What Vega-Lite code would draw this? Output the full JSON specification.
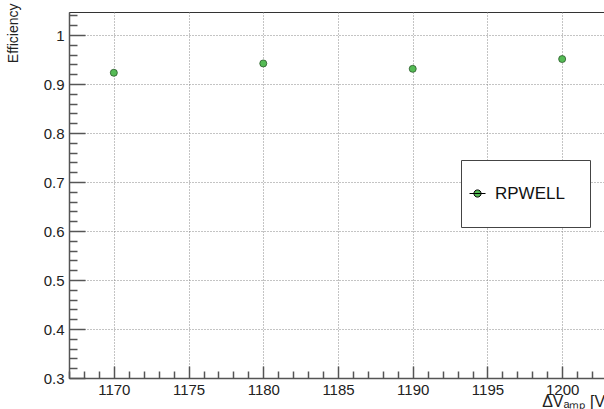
{
  "$schema": "https://vega.github.io/schema/vega-lite/v6.json",
  "width": 538,
  "height": 366,
  "autosize": {"type": "none"},
  "padding": {"left": 69, "top": 12, "right": 0, "bottom": 31},
  "background": "white",
  "config": {
    "font": "Liberation Sans",
    "view": {"stroke": "#333", "strokeWidth": 1},
    "axis": {
      "domainColor": "#555",
      "domainWidth": 1.5,
      "tickColor": "#555",
      "tickWidth": 1.5,
      "labelColor": "#222",
      "labelFontSize": 15,
      "titleFontWeight": "normal",
      "titleColor": "#222",
      "gridColor": "#888",
      "gridDash": [1, 2],
      "gridWidth": 1
    },
    "legend": {
      "orient": "none",
      "legendX": 392,
      "legendY": 148,
      "padding": 25,
      "strokeColor": "#444",
      "fillColor": "white",
      "labelFontSize": 17,
      "labelColor": "#111",
      "symbolType": "M-1,0H1M-0.45,0A0.45,0.45 0 1,0 0.45,0A0.45,0.45 0 1,0 -0.45,0Z",
      "symbolSize": 256,
      "symbolStrokeColor": "#000",
      "symbolStrokeWidth": 1,
      "symbolOffset": -17,
      "labelOffset": 9
    }
  },
  "data": {
    "values": [
      {"hv": 1170, "eff": 0.923, "lo": 0.919, "hi": 0.927, "series": "RPWELL"},
      {"hv": 1180, "eff": 0.942, "lo": 0.938, "hi": 0.946, "series": "RPWELL"},
      {"hv": 1190, "eff": 0.931, "lo": 0.927, "hi": 0.935, "series": "RPWELL"},
      {"hv": 1200, "eff": 0.951, "lo": 0.947, "hi": 0.955, "series": "RPWELL"}
    ]
  },
  "layer": [
    {
      "mark": {"type": "rule", "color": "#000", "strokeWidth": 1},
      "encoding": {
        "x": {"field": "hv", "type": "quantitative", "scale": {"domain": [1167, 1203], "nice": false, "zero": false},
          "axis": {
            "values": [1167,1168,1169,1170,1171,1172,1173,1174,1175,1176,1177,1178,1179,1180,1181,1182,1183,1184,1185,1186,1187,1188,1189,1190,1191,1192,1193,1194,1195,1196,1197,1198,1199,1200,1201,1202],
            "tickCount": 200,
            "format": "d",
            "labelExpr": "datum.value % 5 === 0 ? datum.label : ''",
            "tickSize": {"condition": {"test": "datum.value % 5 === 0", "value": -12}, "value": -7},
            "gridOpacity": {"condition": {"test": "datum.value % 5 === 0", "value": 1}, "value": 0},
            "labelPadding": 16,
            "labelOverlap": false,
            "grid": true,
            "title": "ΔVₐₘₚ [V]", "titleFontSize": 16, "titleAnchor": "end", "titleAlign": "right", "titleX": 540, "titleY": 28, "titleBaseline": "alphabetic"
          }},
        "y": {"field": "lo", "type": "quantitative", "scale": {"domain": [0.3, 1.047], "nice": false, "zero": false},
          "axis": {
            "values": [0.3,0.32,0.34,0.36,0.38,0.4,0.42,0.44,0.46,0.48,0.5,0.52,0.54,0.56,0.58,0.6,0.62,0.64,0.66,0.68,0.7,0.72,0.74,0.76,0.78,0.8,0.82,0.84,0.86,0.88,0.9,0.92,0.94,0.96,0.98,1.0,1.02,1.04],
            "tickCount": 200,
            "format": ".1~f",
            "labelExpr": "abs(datum.value * 10 - round(datum.value * 10)) < 0.001 ? datum.label : ''",
            "tickSize": {"condition": {"test": "abs(datum.value * 10 - round(datum.value * 10)) < 0.001", "value": -16}, "value": -8},
            "gridOpacity": {"condition": {"test": "abs(datum.value * 10 - round(datum.value * 10)) < 0.001 && datum.value > 0.35", "value": 1}, "value": 0},
            "labelPadding": 21,
            "labelOverlap": false,
            "grid": true,
            "title": "Efficiency", "titleFontSize": 14, "titleAngle": 270, "titleAlign": "right", "titleBaseline": "top", "titleX": -63, "titleY": -9
          }},
        "y2": {"field": "hi"}
      }
    },
    {
      "mark": {"type": "point", "filled": true, "size": 50, "opacity": 1, "stroke": "#1e4a1e", "strokeWidth": 0.7},
      "encoding": {
        "x": {"field": "hv", "type": "quantitative"},
        "y": {"field": "eff", "type": "quantitative"},
        "color": {"field": "series", "type": "nominal", "scale": {"domain": ["RPWELL"], "range": ["#55bb55"]}, "legend": {"title": null}}
      }
    }
  ]
}
